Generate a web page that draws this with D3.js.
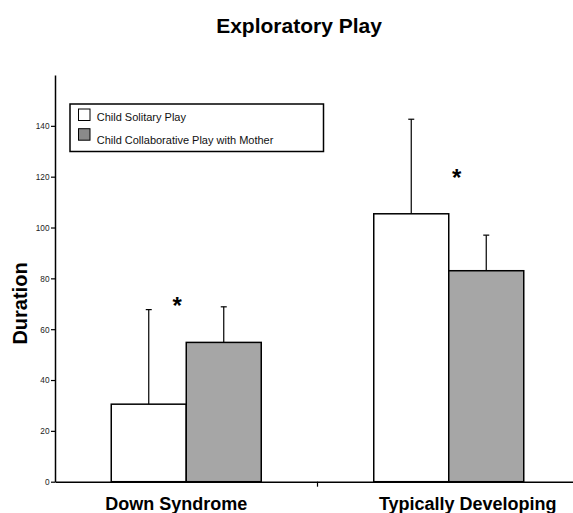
<!DOCTYPE html>
<html>
<head>
<meta charset="utf-8">
<script src="https://cdn.jsdelivr.net/npm/d3@7"></script>
<style>
  body { margin: 0; background: #fff; }
  svg { display: block; font-family: Arial, "Liberation Sans", sans-serif; }
</style>
</head>
<body>
<svg id="chart" width="573" height="513"></svg>
<script>
const groups = ["Down Syndrome", "Typically Developing"];
const seriesNames = ["Child Solitary Play", "Child Collaborative Play with Mother"];
const solitaryMeans = [30.5, 105.4];
const collaborativeMeans = [54.8, 83.0];
const solitaryErrors = [37.2, 37.2];
const collaborativeErrors = [14.0, 14.0];
const yTicks = [0, 20, 40, 60, 80, 100, 120, 140];
const starValues = [71.6, 122];
const colors = ["#ffffff", "#a6a6a6"];
const legendColors = ["#ffffff", "#8a8a8a"];

const svg = d3.select("#chart");
const W = 573, H = 513;

const x = d3.scaleBand().domain(groups).range([55, 580]).paddingInner(0).paddingOuter(0);
const xs = d3.scaleBand().domain(seriesNames).range([0, x.bandwidth()]).paddingInner(0).paddingOuter(0.75);
const y = d3.scaleLinear().domain([0, 160]).range([481.7, 75]);

const rows = [];
groups.forEach((g, i) => {
  rows.push({ g, s: seriesNames[0], v: solitaryMeans[i], e: solitaryErrors[i], c: colors[0] });
  rows.push({ g, s: seriesNames[1], v: collaborativeMeans[i], e: collaborativeErrors[i], c: colors[1] });
});

// Title
svg.append("text").attr("x", 299).attr("y", 33).attr("text-anchor", "middle")
  .attr("font-size", 21).attr("font-weight", "bold").text("Exploratory Play");

// Error bars (behind bars)
const eb = svg.append("g").attr("stroke", "#000").attr("stroke-width", 1.2);
rows.forEach(d => {
  const cx = x(d.g) + xs(d.s) + xs.bandwidth() / 2;
  eb.append("line").attr("x1", cx).attr("x2", cx).attr("y1", y(d.v)).attr("y2", y(d.v + d.e));
  eb.append("line").attr("x1", cx - 3).attr("x2", cx + 3).attr("y1", y(d.v + d.e)).attr("y2", y(d.v + d.e));
});

// Bars
svg.append("g").selectAll("rect").data(rows).join("rect")
  .attr("x", d => x(d.g) + xs(d.s))
  .attr("y", d => y(d.v))
  .attr("width", xs.bandwidth())
  .attr("height", d => y(0) - y(d.v))
  .attr("fill", d => d.c)
  .attr("stroke", "#000")
  .attr("stroke-width", 1.5);

// Y axis
const yAxis = svg.append("g").attr("transform", "translate(55,0)")
  .call(d3.axisLeft(y).tickValues(yTicks).tickSize(4).tickSizeOuter(0).tickPadding(2));
yAxis.select(".domain").attr("stroke", "#000").attr("stroke-width", 1.5);
yAxis.selectAll(".tick line").attr("stroke", "#000").attr("stroke-width", 1.2);
yAxis.selectAll(".tick text").attr("font-size", 9).attr("fill", "#222")
  .attr("font-family", "Arial, 'Liberation Sans', sans-serif")
  .attr("transform", "scale(0.92,1)");

// X axis
const xAxis = svg.append("g").attr("transform", `translate(0,${y(0)})`)
  .call(d3.axisBottom(x).tickSize(0).tickSizeOuter(0).tickFormat(""));
xAxis.select(".domain").attr("stroke", "#000").attr("stroke-width", 1.5);
xAxis.selectAll(".tick").remove();
xAxis.selectAll(".sep").data(groups.slice(1)).join("line")
  .attr("class", "sep")
  .attr("x1", d => x(d)).attr("x2", d => x(d))
  .attr("y1", 0).attr("y2", 5)
  .attr("stroke", "#000").attr("stroke-width", 1.2);

// X labels
const labelOffsets = [-10, 19];
svg.append("g").selectAll("text").data(groups).join("text")
  .attr("x", (d, i) => x(d) + x.bandwidth() / 2 + labelOffsets[i])
  .attr("y", 510)
  .attr("text-anchor", "middle")
  .attr("font-size", 18).attr("font-weight", "bold")
  .text(d => d);

// Y label
svg.append("text").attr("transform", "translate(27,303.5) rotate(-90)")
  .attr("text-anchor", "middle").attr("font-size", 20).attr("font-weight", "bold")
  .text("Duration");

// Asterisks
const starOffsets = [-9, 8];
svg.append("g").selectAll("text").data(groups).join("text")
  .attr("x", (d, i) => x(d) + x.bandwidth() / 2 + starOffsets[i])
  .attr("y", (d, i) => y(starValues[i]) + 14)
  .attr("text-anchor", "middle")
  .attr("font-size", 24).attr("font-weight", "bold")
  .text("*");

// Legend
const lg = svg.append("g");
lg.append("rect").attr("x", 70).attr("y", 104).attr("width", 253.5).attr("height", 47.5)
  .attr("fill", "#fff").attr("stroke", "#000").attr("stroke-width", 1.5);
seriesNames.forEach((s, i) => {
  lg.append("rect").attr("x", 78.5).attr("y", 109 + i * 19.7).attr("width", 11.5).attr("height", 11.5)
    .attr("fill", legendColors[i]).attr("stroke", "#000").attr("stroke-width", 1);
  lg.append("text").attr("x", 96.7).attr("y", 120.7 + i * 23.3)
    .attr("font-size", 11).attr("fill", "#111").text(s);
});
</script>
</body>
</html>
